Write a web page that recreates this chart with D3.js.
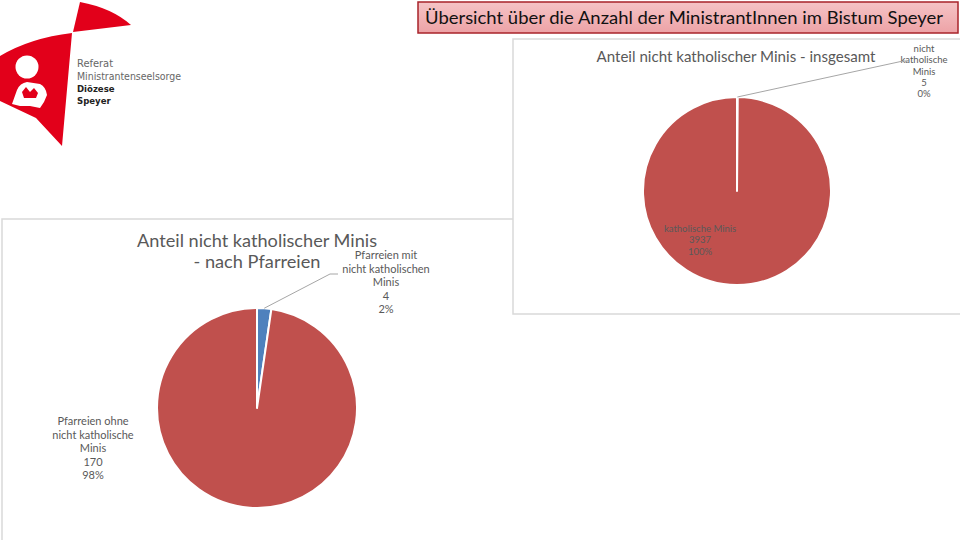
<!DOCTYPE html>
<html><head><meta charset="utf-8">
<script src="https://cdn.jsdelivr.net/npm/d3@7"></script>
<style>body{margin:0;background:#fff}svg{display:block}</style>
</head><body><svg id="c" width="960" height="540"></svg>
<script>
// ---------- data ----------
const pageTitle = "Übersicht über die Anzahl der MinistrantInnen im Bistum Speyer";
const logoLines = ["Referat", "Ministrantenseelsorge", "Diözese", "Speyer"];

const totalTitle = ["Anteil nicht katholischer Minis - insgesamt"];
const totalCategories = ["nicht katholische Minis", "katholische Minis"];
const totalLabelLines = [["nicht", "katholische", "Minis"], ["katholische Minis"]];
const totalValues = [5, 3937];

const parishTitle = ["Anteil nicht katholischer Minis", "- nach Pfarreien"];
const parishCategories = ["Pfarreien mit nicht katholischen Minis", "Pfarreien ohne nicht katholische Minis"];
const parishLabelLines = [["Pfarreien mit", "nicht katholischen", "Minis"], ["Pfarreien ohne", "nicht katholische", "Minis"]];
const parishValues = [4, 170];

// ---------- drawing ----------
const svg = d3.select("#c");
const FONT = "Lato, 'Open Sans', sans-serif";
const RED = "#c0504d", BLUE = "#4f81bd";

// chart frames (left under right)
svg.append("rect").attr("x", 2).attr("y", 219).attr("width", 1100).attr("height", 400)
  .attr("fill", "#fff").attr("stroke", "#d9d9d9").attr("stroke-width", 1.5);
svg.append("rect").attr("x", 513).attr("y", 39).attr("width", 500).attr("height", 275)
  .attr("fill", "#fff").attr("stroke", "#d9d9d9").attr("stroke-width", 1.5);

// page title box
const defs = svg.append("defs");
const grad = defs.append("linearGradient").attr("id", "tg").attr("x1", 0).attr("y1", 0).attr("x2", 0).attr("y2", 1);
grad.append("stop").attr("offset", "0%").attr("stop-color", "#f5c4c6");
grad.append("stop").attr("offset", "100%").attr("stop-color", "#eda2a6");
svg.append("rect").attr("x", 418).attr("y", 2).attr("width", 540).attr("height", 31)
  .attr("fill", "url(#tg)").attr("stroke", "#a8232a").attr("stroke-width", 1.5);
svg.append("text").attr("x", 425).attr("y", 24).attr("font-family", FONT).attr("font-size", 17)
  .attr("fill", "#111").attr("textLength", 518).attr("lengthAdjust", "spacingAndGlyphs").text(pageTitle);

// logo
const logo = svg.append("g");
logo.append("path").attr("fill", "#e2001a")
  .attr("d", "M80,2 Q112,8 131,25 L73,32 Z");
logo.append("path").attr("fill", "#e2001a")
  .attr("d", "M0,56 Q30,38 72,33 L62,146 L36,118 L0,101 Z");
logo.append("circle").attr("cx", 27).attr("cy", 67).attr("r", 11.5).attr("fill", "#fff");
logo.append("path").attr("fill", "#fff")
  .attr("d", "M12,104 L17,90 Q20,83 27,82 L40,84 Q46,87 47,95 L44,102 L40,108 L30,106 L20,106 Z");
logo.append("path").attr("fill", "#e2001a")
  .attr("d", "M22,92 L26,87 L30,92 L34,88 L38,93 L36,98 L24,98 Z");
const logoY = [67, 80, 92, 104];
logoLines.forEach((t, i) => {
  logo.append("text").attr("x", 77).attr("y", logoY[i])
    .attr("font-family", "'Liberation Sans Narrow', 'DejaVu Sans Condensed', sans-serif")
    .attr("font-size", i < 2 ? 11 : 9.5).attr("font-weight", i < 2 ? 400 : 700)
    .attr("fill", i < 2 ? "#666" : "#222")
    .attr("textLength", i === 1 ? 104 : null)
    .attr("lengthAdjust", "spacingAndGlyphs")
    .text(t);
});

function drawPie(opt) {
  const g = svg.append("g").attr("transform", `translate(${opt.cx},${opt.cy})`);
  const total = d3.sum(opt.values);
  const arcs = d3.pie().sort(null).startAngle(0).endAngle(2 * Math.PI)(opt.values);
  const arc = d3.arc().innerRadius(0).outerRadius(opt.r);
  g.selectAll("path.slice").data(arcs).join("path").attr("class", "slice")
    .attr("d", arc).attr("fill", (d, i) => opt.colors[i])
    .attr("stroke", "#fff").attr("stroke-width", 2).attr("stroke-linejoin", "round");

  // titles
  opt.title.forEach((t, i) => {
    svg.append("text").attr("x", opt.titleX).attr("y", opt.titleY[i])
      .attr("text-anchor", "middle").attr("font-family", FONT).attr("font-size", opt.titleSize)
      .attr("fill", "#595959").attr("textLength", opt.titleLen[i]).attr("lengthAdjust", "spacingAndGlyphs")
      .text(t);
  });

  // labels
  arcs.forEach((a, i) => {
    const lp = opt.labelPos[i];
    const lines = opt.labelLines[i].concat([String(opt.values[i]), Math.round(opt.values[i] / total * 100) + "%"]);
    lines.forEach((t, k) => {
      g.append("text").attr("x", lp[0]).attr("y", lp[1] + k * opt.lineH)
        .attr("text-anchor", "middle").attr("font-family", FONT).attr("font-size", opt.labelSize)
        .attr("fill", "#595959").text(t);
    });
    if (opt.leader[i]) {
      const mid = (a.startAngle + a.endAngle) / 2;
      const p0 = [opt.r * Math.sin(mid), -opt.r * Math.cos(mid)];
      const e = opt.leader[i];
      g.append("polyline").attr("fill", "none").attr("stroke", "#a6a6a6").attr("stroke-width", 1)
        .attr("points", [p0, [lp[0] + e[0], lp[1] + e[1]], [lp[0] + e[2], lp[1] + e[1]]].map(p => p.join(",")).join(" "));
    }
  });
}

drawPie({
  cx: 737, cy: 191, r: 94,
  values: totalValues, colors: [RED, RED],
  title: totalTitle, titleX: 736, titleY: [62], titleSize: 15, titleLen: [279],
  labelLines: totalLabelLines,
  labelPos: [[187, -139], [-37, 41]], lineH: 11.3, labelSize: 9.5,
  leader: [[-21, 9, -15], null]
});

drawPie({
  cx: 257, cy: 408, r: 100,
  values: parishValues, colors: [BLUE, RED],
  title: parishTitle, titleX: 257, titleY: [247, 268], titleSize: 17, titleLen: [240, 127],
  labelLines: parishLabelLines,
  labelPos: [[129, -149], [-164, 17]], lineH: 13.6, labelSize: 11,
  leader: [[-56, 15, -48], null]
});
</script>
</body></html>
